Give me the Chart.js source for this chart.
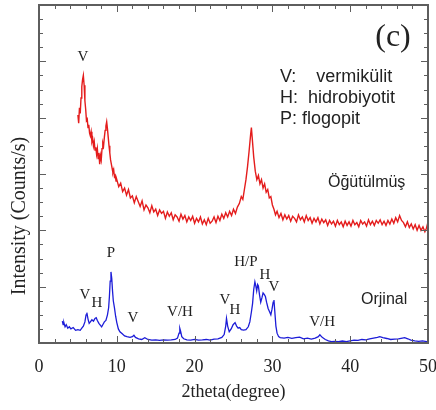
<!DOCTYPE html>
<html>
<head>
<meta charset="utf-8">
<script src="https://cdn.jsdelivr.net/npm/chart.js@4"></script>
<style>
  html, body { margin: 0; padding: 0; background: #fff; }
  canvas { display: block; }
</style>
</head>
<body>
<canvas id="xrdChart" width="436" height="410"></canvas>
<script>
/* XRD patterns — ground (Öğütülmüş) vs original (Orjinal) sample */

const redTheta = [
  5.0, 5.1, 5.2, 5.3, 5.4, 5.5, 5.6, 5.7, 5.8, 5.9,
  6.0, 6.1, 6.2, 6.3, 6.4, 6.5, 6.6, 6.7, 6.8, 6.9,
  7.0, 7.1, 7.2, 7.3, 7.4, 7.5, 7.6, 7.7, 7.8, 7.9,
  8.0, 8.1, 8.2, 8.3, 8.4, 8.5, 8.6, 8.7, 8.8, 8.9,
  9.0, 9.1, 9.2, 9.3, 9.4, 9.5, 9.6, 9.7, 9.8, 9.9,
  10.0, 10.25, 10.5, 10.75, 11.0, 11.25, 11.5, 11.75, 12.0, 12.25,
  12.5, 12.75, 13.0, 13.25, 13.5, 13.75, 14.0, 14.25, 14.5, 14.75,
  15.0, 15.25, 15.5, 15.75, 16.0, 16.25, 16.5, 16.75, 17.0, 17.25,
  17.5, 17.75, 18.0, 18.25, 18.5, 18.75, 19.0, 19.25, 19.5, 19.75,
  20.0, 20.25, 20.5, 20.75, 21.0, 21.25, 21.5, 21.75, 22.0, 22.25,
  22.5, 22.75, 23.0, 23.25, 23.5, 23.75, 24.0, 24.25, 24.5, 24.75,
  25.0, 25.25, 25.5, 25.75,
  26.0, 26.2, 26.4, 26.6, 26.8, 27.0, 27.2, 27.3, 27.4, 27.6,
  27.8, 28.0, 28.2, 28.4, 28.6, 28.8, 29.0, 29.2, 29.4, 29.6,
  29.8, 30.0, 30.2, 30.4,
  30.6, 30.85, 31.1, 31.35, 31.6, 31.85, 32.1, 32.35, 32.6, 32.85,
  33.1, 33.35, 33.6, 33.85, 34.1, 34.35, 34.6, 34.85, 35.1, 35.35,
  35.6, 35.85, 36.1, 36.35, 36.6, 36.85, 37.1, 37.35, 37.6, 37.85,
  38.1, 38.35, 38.6, 38.85, 39.1, 39.35, 39.6, 39.85, 40.1, 40.35,
  40.6, 40.85, 41.1, 41.35, 41.6, 41.85, 42.1, 42.35, 42.6, 42.85,
  43.1, 43.35, 43.6, 43.85, 44.1, 44.35, 44.6, 44.85, 45.1, 45.35,
  45.6, 45.85, 46.1, 46.35, 46.6, 46.85, 47.1, 47.35, 47.6, 47.85,
  48.1, 48.35, 48.6, 48.85, 49.1, 49.35, 49.6, 49.8, 50.0
];
const redCounts = [
  16.2, 15.6, 16.7, 16.3, 17.4, 18.2, 18.7, 19.0, 18.3, 17.2,
  16.6, 15.8, 15.9, 15.3, 15.5, 14.9, 14.7, 15.0, 14.3, 14.5,
  14.0, 14.3, 13.7, 13.9, 13.4, 13.8, 13.1, 13.5, 12.7, 13.3,
  13.0, 13.8, 14.2, 14.0, 14.6, 15.1, 15.4, 15.7, 15.2, 14.6,
  14.0, 13.5, 13.0, 12.7, 12.4, 12.1, 12.3, 11.8, 11.9, 11.5,
  11.6, 11.1, 11.35, 10.75, 11.0, 10.5, 10.9, 10.3, 10.45, 9.95,
  10.4, 10.05, 9.7, 10.1, 9.45, 9.8, 9.6, 9.25, 9.75, 9.3,
  9.5, 9.05, 9.45, 9.2, 9.35, 8.85, 9.3, 9.0, 9.25, 8.75,
  9.1, 8.95, 8.65, 9.15, 8.8, 9.05, 8.6, 8.95, 8.7, 9.0,
  8.5, 8.85, 8.6, 8.95, 8.45, 8.75, 8.4, 8.85, 8.5, 8.65,
  8.95, 8.55, 9.0, 8.7, 9.15, 8.85, 9.25, 8.95, 9.35, 9.05,
  9.5, 9.2, 9.65, 9.9,
  10.4, 10.2, 10.9, 11.6, 12.5, 13.6, 14.8, 15.3, 14.6, 13.2,
  12.2, 11.6, 11.9, 11.3, 11.6, 11.0, 11.3, 10.7, 10.9, 10.3,
  10.4, 9.8, 9.5, 9.1,
  9.35, 8.9, 9.2, 8.75, 9.1, 8.8, 9.05, 8.65, 9.0, 8.85,
  8.6, 9.1, 8.75, 8.95, 8.6, 9.05, 8.7, 8.9, 8.5, 8.85,
  8.6, 8.9, 8.45, 8.8, 8.55, 8.75, 8.35, 8.7, 8.45, 8.65,
  8.3, 8.7, 8.4, 8.6, 8.25, 8.65, 8.35, 8.6, 8.3, 8.7,
  8.4, 8.55, 8.25, 8.7, 8.45, 8.6, 8.3, 8.75, 8.4, 8.65,
  8.35, 8.7, 8.5, 8.75, 8.4, 8.65, 8.35, 8.7, 8.45, 8.8,
  8.5, 8.9, 8.6, 9.05, 8.7, 8.55, 8.25, 8.6, 8.2, 8.45,
  8.1, 8.4, 8.0, 8.35, 8.0, 8.25, 7.9, 8.15, 8.6
];

const blueTheta = [
  3.0, 3.1, 3.2, 3.35, 3.5, 3.7, 3.9, 4.1, 4.4, 4.7, 5.0, 5.3, 5.5, 5.7, 5.9, 6.05, 6.15, 6.3, 6.45, 6.6,
  6.8, 7.0, 7.2, 7.35, 7.5, 7.7, 7.9, 8.05, 8.2, 8.4, 8.6, 8.8, 8.95, 9.05, 9.15, 9.25, 9.35, 9.45, 9.55, 9.7,
  9.85, 10.0, 10.2, 10.4, 10.7, 11.0, 11.3, 11.7, 12.0, 12.2, 12.4, 12.8, 13.2, 13.6, 14.0, 14.5, 15.0, 15.5, 16.0, 16.5,
  17.0, 17.5, 17.8, 18.0, 18.1, 18.2, 18.35, 18.6, 19.0, 19.5, 20.0, 20.5, 21.0, 21.5, 22.0, 22.5, 23.0, 23.5, 23.8, 24.0,
  24.1, 24.25, 24.45, 24.7, 24.95, 25.2, 25.4, 25.6, 25.8, 26.0, 26.3, 26.6, 26.9, 27.1, 27.3, 27.45, 27.6, 27.75, 27.85, 27.98,
  28.1, 28.2, 28.35, 28.5, 28.65, 28.8, 28.95, 29.1, 29.25, 29.45, 29.65, 29.8, 29.95, 30.1, 30.2, 30.3, 30.45, 30.6, 30.8, 31.0,
  31.5, 32.0, 32.5, 33.0, 33.5, 34.0, 34.5, 35.0, 35.5, 35.9, 36.1, 36.4, 36.8, 37.2, 37.6, 38.0, 38.5, 39.0, 39.5, 40.0,
  40.5, 41.0, 41.5, 42.0, 42.5, 43.0, 43.5, 43.8, 44.2, 44.7, 45.2, 45.7, 46.2, 46.7, 47.0, 47.4, 47.8, 48.3, 48.8, 49.3,
  49.8, 50.0
];
const blueCounts = [
  1.55, 1.3, 1.45, 1.15, 1.3, 1.05, 1.15, 1.0, 1.1, 0.9, 0.95, 0.9, 1.05, 1.2, 1.5, 2.0, 2.15, 1.7, 1.4, 1.5,
  1.65, 1.55, 1.75, 1.8, 1.6, 1.4, 1.25, 1.15, 1.3, 1.5, 1.6, 2.0, 2.5, 3.3, 4.4, 5.05, 4.6, 3.7, 3.0, 2.5,
  1.9, 1.45, 1.0, 0.8, 0.65, 0.5, 0.45, 0.4, 0.45, 0.55, 0.4, 0.3, 0.25, 0.38, 0.25, 0.2, 0.22, 0.18, 0.22, 0.2,
  0.22, 0.25, 0.35, 0.7, 1.05, 0.85, 0.45, 0.3, 0.22, 0.2, 0.25, 0.2, 0.22, 0.25, 0.2, 0.28, 0.3, 0.4, 0.6, 1.2,
  1.75, 1.2, 0.8, 1.0, 1.3, 1.45, 1.2, 1.05, 1.1, 0.95, 0.92, 0.95, 1.15, 1.5, 2.2, 2.8, 3.8, 4.35, 4.1, 3.7,
  4.15, 4.05, 3.4, 2.9, 3.2, 3.55, 3.45, 3.3, 2.9, 2.45, 2.2, 2.0, 2.4, 2.9, 3.05, 2.3, 1.2, 0.7, 0.45, 0.38,
  0.35, 0.4, 0.33, 0.38, 0.42, 0.3, 0.35, 0.28, 0.35, 0.45, 0.58, 0.4, 0.25, 0.15, 0.1, 0.12, 0.1, 0.14, 0.1, 0.15,
  0.2, 0.18, 0.25, 0.22, 0.3, 0.35, 0.4, 0.45, 0.38, 0.32, 0.25, 0.28, 0.3, 0.35, 0.38, 0.3, 0.2, 0.15, 0.12, 0.15,
  0.1, 0.12
];

/* phase labels over the peaks: text, 2theta, height */
const peakLabels = ['V', 'V', 'H', 'P', 'V', 'V/H', 'V', 'H', 'H/P', 'H', 'V', 'V/H'];
const peakTheta  = [5.66, 5.91, 7.46, 9.25, 12.08, 18.12, 23.9, 25.19, 26.6, 29.05, 30.2, 36.4];
const peakLevel  = [20.3, 3.41, 2.84, 6.39, 1.78, 2.2, 3.05, 2.34, 5.75, 4.83, 3.98, 1.49];

const legendLines = ['V:    vermikülit', 'H:  hidrobiyotit', 'P: flogopit'];
const seriesNames = ['Öğütülmüş', 'Orjinal'];

const X_MIN = 0, X_MAX = 50, X_MAJOR = 10, X_MINOR = 2;
const Y_MIN = 0, Y_MAX = 24, Y_MAJOR = 4, Y_MINOR = 1;

const SERIF = '"Liberation Serif", "Times New Roman", serif';
const SANS = '"Liberation Sans", Arial, sans-serif';

function toPoints(xs, ys) {
  return xs.map((x, i) => ({ x: x, y: ys[i] }));
}

/* frame with inward ticks on all four sides + text annotations */
const decorations = {
  id: 'decorations',
  afterDatasetsDraw(chart) {
    const { ctx, chartArea: a, scales: { x, y } } = chart;
    ctx.save();

    ctx.strokeStyle = '#5e5e5e';
    ctx.lineWidth = 1;
    ctx.beginPath();
    for (let v = X_MIN; v <= X_MAX; v += X_MINOR) {
      const px = Math.round(x.getPixelForValue(v)) + 0.5;
      const len = v % X_MAJOR === 0 ? 7 : 4;
      ctx.moveTo(px, a.bottom); ctx.lineTo(px, a.bottom - len);
      ctx.moveTo(px, a.top);    ctx.lineTo(px, a.top + len);
    }
    for (let v = Y_MIN; v <= Y_MAX; v += Y_MINOR) {
      const py = Math.round(y.getPixelForValue(v)) + 0.5;
      const len = v % Y_MAJOR === 0 ? 7 : 4;
      ctx.moveTo(a.left, py);  ctx.lineTo(a.left + len, py);
      ctx.moveTo(a.right, py); ctx.lineTo(a.right - len, py);
    }
    ctx.stroke();

    ctx.lineWidth = 2;
    ctx.strokeRect(a.left, a.top, a.right - a.left, a.bottom - a.top);

    // peak labels
    ctx.fillStyle = '#222';
    ctx.font = '15px ' + SERIF;
    ctx.textAlign = 'center';
    ctx.textBaseline = 'middle';
    peakLabels.forEach((t, i) => {
      ctx.fillText(t, x.getPixelForValue(peakTheta[i]), y.getPixelForValue(peakLevel[i]));
    });

    // panel tag
    ctx.font = '32px ' + SERIF;
    ctx.fillText('(c)', 393, 38);

    // phase legend
    ctx.font = '18px ' + SANS;
    ctx.textAlign = 'left';
    legendLines.forEach((t, i) => ctx.fillText(t, 280, 77 + i * 21));

    // series names
    ctx.font = '16px ' + SANS;
    ctx.fillText(seriesNames[0], 328, 183);
    ctx.fillText(seriesNames[1], 361, 300);

    // y axis title
    ctx.font = '20px ' + SERIF;
    ctx.textAlign = 'center';
    ctx.translate(20, 216);
    ctx.rotate(-Math.PI / 2);
    ctx.fillText('Intensity (Counts/s)', 0, 0);

    ctx.restore();
  }
};

new Chart(document.getElementById('xrdChart'), {
  type: 'line',
  data: {
    datasets: [
      {
        label: seriesNames[0],
        data: toPoints(redTheta, redCounts),
        borderColor: '#e41c1c',
        borderWidth: 1.4,
        pointRadius: 0,
        tension: 0
      },
      {
        label: seriesNames[1],
        data: toPoints(blueTheta, blueCounts),
        borderColor: '#1c1cd8',
        borderWidth: 1.3,
        pointRadius: 0,
        tension: 0
      }
    ]
  },
  options: {
    responsive: false,
    animation: false,
    layout: { padding: { left: 39, right: 8, top: 5, bottom: 0 } },
    plugins: {
      legend: { display: false },
      tooltip: { enabled: false }
    },
    scales: {
      x: {
        type: 'linear',
        min: X_MIN,
        max: X_MAX,
        grid: { display: false, drawTicks: false },
        border: { display: false },
        ticks: {
          stepSize: X_MAJOR,
          padding: 13,
          color: '#222',
          font: { size: 18, family: SERIF }
        },
        title: {
          display: true,
          text: '2theta(degree)',
          color: '#222',
          padding: { top: 0, bottom: 7 },
          font: { size: 18, family: SERIF }
        },
        afterFit(scale) {
          scale.height = 67;
          scale.paddingLeft = 0;
          scale.paddingRight = 0;
        }
      },
      y: {
        display: false,
        min: Y_MIN,
        max: Y_MAX
      }
    }
  },
  plugins: [decorations]
});
</script>
</body>
</html>
